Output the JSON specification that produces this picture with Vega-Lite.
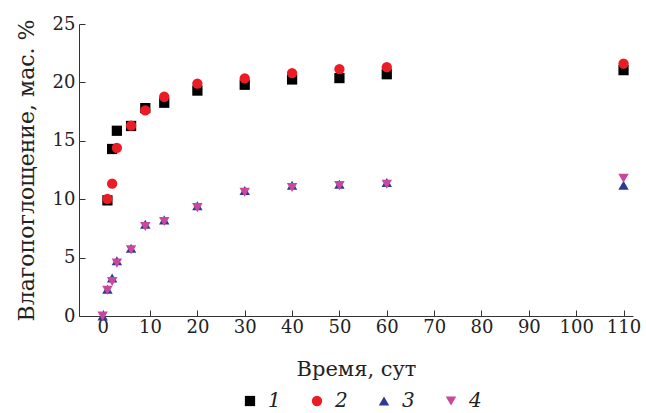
{
  "$schema": "https://vega.github.io/schema/vega-lite/v6.json",
  "width": 554,
  "height": 292,
  "autosize": {"type": "none"},
  "padding": {"left": 79, "top": 24, "right": 13, "bottom": 97},
  "background": "white",
  "config": {
    "view": {"stroke": null},
    "font": "DejaVu Serif",
    "axis": {
      "grid": false,
      "domainColor": "#333333",
      "tickColor": "#333333",
      "labelColor": "#222222",
      "titleColor": "#222222",
      "labelFont": "DejaVu Serif",
      "titleFont": "DejaVu Serif",
      "labelFontSize": 18,
      "titleFontSize": 21,
      "titleFontWeight": "normal",
      "tickSize": -6
    }
  },
  "data": {
    "values": [
      {"t": 1, "v": 9.9, "s": "1"},
      {"t": 2, "v": 14.3, "s": "1"},
      {"t": 3, "v": 15.86, "s": "1"},
      {"t": 6, "v": 16.27, "s": "1"},
      {"t": 9, "v": 17.8, "s": "1"},
      {"t": 13, "v": 18.26, "s": "1"},
      {"t": 20, "v": 19.3, "s": "1"},
      {"t": 30, "v": 19.8, "s": "1"},
      {"t": 40, "v": 20.25, "s": "1"},
      {"t": 50, "v": 20.37, "s": "1"},
      {"t": 60, "v": 20.7, "s": "1"},
      {"t": 110, "v": 21.05, "s": "1"},
      {"t": 1, "v": 10.03, "s": "2"},
      {"t": 2, "v": 11.33, "s": "2"},
      {"t": 3, "v": 14.4, "s": "2"},
      {"t": 6, "v": 16.3, "s": "2"},
      {"t": 9, "v": 17.6, "s": "2"},
      {"t": 13, "v": 18.77, "s": "2"},
      {"t": 20, "v": 19.9, "s": "2"},
      {"t": 30, "v": 20.34, "s": "2"},
      {"t": 40, "v": 20.8, "s": "2"},
      {"t": 50, "v": 21.14, "s": "2"},
      {"t": 60, "v": 21.3, "s": "2"},
      {"t": 110, "v": 21.6, "s": "2"},
      {"t": 0, "v": 0, "s": "3"},
      {"t": 1, "v": 2.3, "s": "3"},
      {"t": 2, "v": 3.25, "s": "3"},
      {"t": 3, "v": 4.73, "s": "3"},
      {"t": 6, "v": 5.8, "s": "3"},
      {"t": 9, "v": 7.86, "s": "3"},
      {"t": 13, "v": 8.23, "s": "3"},
      {"t": 20, "v": 9.43, "s": "3"},
      {"t": 30, "v": 10.74, "s": "3"},
      {"t": 40, "v": 11.2, "s": "3"},
      {"t": 50, "v": 11.28, "s": "3"},
      {"t": 60, "v": 11.42, "s": "3"},
      {"t": 110, "v": 11.2, "s": "3"},
      {"t": 0, "v": 0, "s": "4"},
      {"t": 1, "v": 2.2, "s": "4"},
      {"t": 2, "v": 2.96, "s": "4"},
      {"t": 3, "v": 4.53, "s": "4"},
      {"t": 6, "v": 5.67, "s": "4"},
      {"t": 9, "v": 7.66, "s": "4"},
      {"t": 13, "v": 8.09, "s": "4"},
      {"t": 20, "v": 9.28, "s": "4"},
      {"t": 30, "v": 10.6, "s": "4"},
      {"t": 40, "v": 11.0, "s": "4"},
      {"t": 50, "v": 11.16, "s": "4"},
      {"t": 60, "v": 11.28, "s": "4"},
      {"t": 110, "v": 11.8, "s": "4"}
    ]
  },
  "mark": {"type": "point", "filled": true, "opacity": 1},
  "encoding": {
    "x": {
      "field": "t",
      "type": "quantitative",
      "title": "Время, сут",
      "scale": {"domain": [-5, 112], "nice": false, "zero": false},
      "axis": {"values": [0, 10, 20, 30, 40, 50, 60, 70, 80, 90, 100, 110], "labelPadding": 8, "titlePadding": 22}
    },
    "y": {
      "field": "v",
      "type": "quantitative",
      "title": "Влагопоглощение, мас. %",
      "scale": {"domain": [0, 25], "nice": false},
      "axis": {"values": [0, 5, 10, 15, 20, 25], "labelPadding": 10, "titlePadding": 14, "titleFontSize": 22}
    },
    "color": {
      "field": "s",
      "type": "nominal",
      "scale": {"domain": ["1", "2", "3", "4"], "range": ["#000000", "#ec1c24", "#2e3a92", "#c9479c"]},
      "legend": {
        "title": null,
        "orient": "none",
        "direction": "horizontal",
        "legendX": 161,
        "legendY": 367,
        "labelFont": "DejaVu Serif",
        "labelFontStyle": "italic",
        "labelFontSize": 20,
        "labelColor": "#222222",
        "symbolSize": 75,
        "symbolOpacity": 1,
        "columnPadding": 26,
        "labelOffset": 8
      }
    },
    "shape": {
      "field": "s",
      "type": "nominal",
      "scale": {"domain": ["1", "2", "3", "4"], "range": ["square", "circle", "triangle-up", "triangle-down"]}
    },
    "size": {
      "field": "s",
      "type": "nominal",
      "scale": {"domain": ["1", "2", "3", "4"], "range": [105, 110, 130, 130]},
      "legend": null
    },
    "order": {"field": "s", "type": "nominal"}
  }
}
